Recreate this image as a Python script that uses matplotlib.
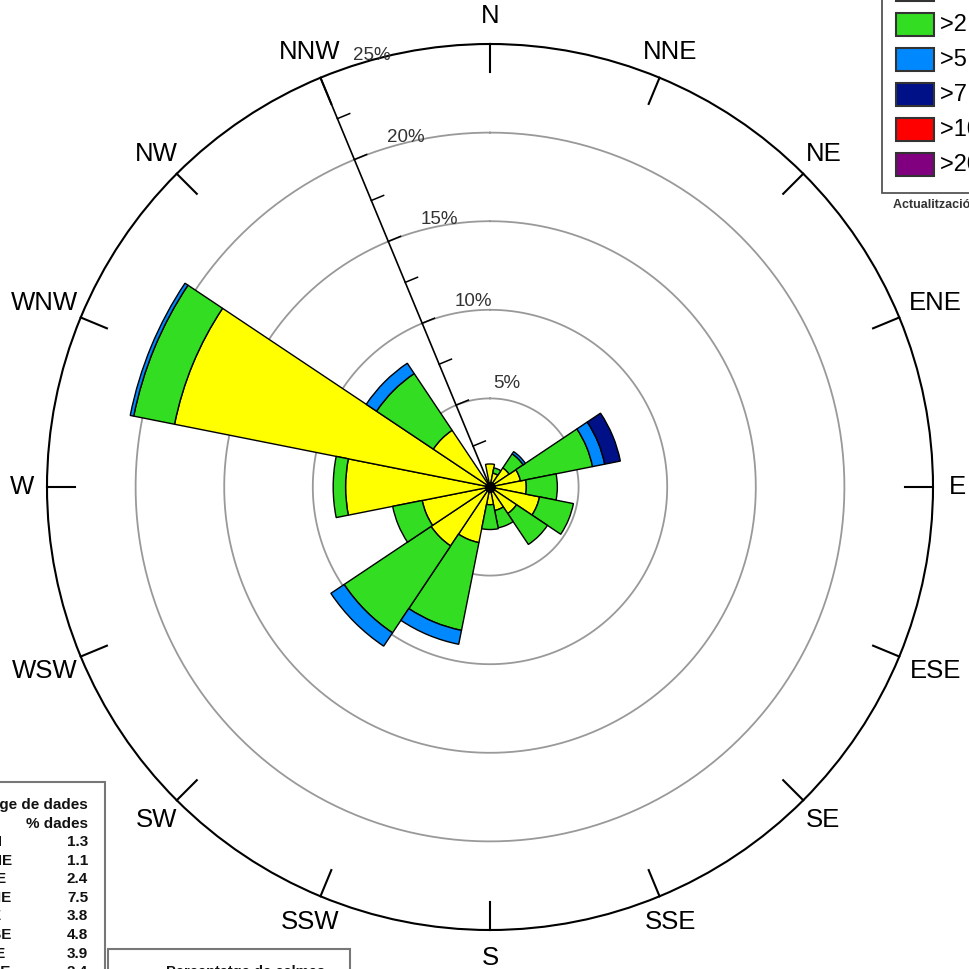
import numpy as np
import matplotlib
matplotlib.use("Agg")
import matplotlib.pyplot as plt
from matplotlib.patches import Rectangle

plt.rcParams['font.family'] = ['Liberation Sans', 'DejaVu Sans']

# wind rose data (% of records), 16 directions from N clockwise
directions = ["N", "NNE", "NE", "ENE", "E", "ESE", "SE", "SSE",
              "S", "SSW", "SW", "WSW", "W", "WNW", "NW", "NNW"]
bin_labels = ["0.5-2 m/s", ">2 m/s", ">5 m/s", ">7 m/s", ">10 m/s", ">20 m/s"]
bin_colors = ["#ffff00", "#33dd22", "#0088ff", "#001188", "#ff0000", "#800080"]

b1 = [1.3, 0.8, 1.3, 1.75, 2.05, 2.85, 1.8, 1.35, 1.0, 3.2, 4.0, 3.9, 8.15, 18.15, 3.85, 0.2]
b2 = [0.0, 0.3, 0.95, 4.15, 1.75, 1.95, 2.1, 1.0, 1.4, 5.05, 5.9, 1.7, 0.7, 2.35, 3.85, 0.0]
b3 = [0.0, 0.0, 0.15, 0.7, 0.0, 0.0, 0.0, 0.0, 0.0, 0.8, 0.9, 0.0, 0.0, 0.2, 0.7, 0.0]
b4 = [0.0, 0.0, 0.0, 0.9, 0.0, 0.0, 0.0, 0.0, 0.0, 0.0, 0.0, 0.0, 0.0, 0.0, 0.0, 0.0]
b5 = [0.0] * 16
b6 = [0.0] * 16

ring_values = [5, 10, 15, 20, 25]
table_dirs = ["N", "NNE", "NE", "ENE", "E", "ESE", "SE", "SSE"]
table_pct = ["1.3", "1.1", "2.4", "7.5", "3.8", "4.8", "3.9", "2.4"]

S = 969
def fx(x):
    return x / S
def fy(y):
    return 1 - y / S

fig = plt.figure(figsize=(9.69, 9.69), dpi=100)
ax = fig.add_axes([fx(47), fy(930), 886 / S, 886 / S], projection='polar')
ax.set_theta_zero_location('N')
ax.set_theta_direction(-1)
ax.set_ylim(0, 25)
ax.set_xticks([])
ax.set_yticks([])
ax.grid(False)
ax.spines['polar'].set_color('black')
ax.spines['polar'].set_linewidth(1.5)

theta = np.deg2rad(np.arange(16) * 22.5)
width = 2 * np.pi / 16

# rings
tt = np.linspace(0, 2 * np.pi, 400)
for r in ring_values[:-1]:
    ax.plot(tt, [r] * len(tt), color='#999999', lw=1.3, zorder=1)

# stacked sectors
bottom = np.zeros(16)
for vals, col in zip([b1, b2, b3, b4, b5, b6], bin_colors):
    vals = np.array(vals)
    m = vals > 0
    ax.bar(theta[m], vals[m], width=width, bottom=bottom[m], color=col,
           edgecolor='black', linewidth=1.0, align='center', zorder=3)
    bottom += vals
ax.plot([0], [0], 'o', color='black', ms=7, zorder=4)

# direction ticks and labels
for th, name in zip(theta, directions):
    ax.plot([th, th], [23.4, 25], color='black', lw=1.5, zorder=2, clip_on=False)
    rl = 26.6
    if name in ("ENE", "ESE", "WSW", "WNW"):
        rl = 27.2
    elif name in ("E", "W"):
        rl = 26.4
    ax.text(th, rl, name, ha='center', va='center', fontsize=18.5, clip_on=False)

# radial axis along NNW
ta = np.deg2rad(337.5)
ax.plot([ta, ta], [0, 25], color='black', lw=1.2, zorder=2)
def perp(r, L):
    x = r * np.sin(ta) + L * np.cos(ta)
    y = r * np.cos(ta) - L * np.sin(ta)
    return np.arctan2(x, y), np.hypot(x, y)
for r in np.arange(2.5, 25, 2.5):
    t2, r2 = perp(r, 0.75)
    ax.plot([ta, t2], [r, r2], color='black', lw=1.1, zorder=2)
for r in ring_values:
    ax.annotate(f"{r}%", xy=(ta, r), xytext=(51, 22), textcoords='offset pixels',
                ha='center', va='center', fontsize=13.5, color='#333333',
                annotation_clip=False)

# speed legend (top right, cropped)
fig.add_artist(Rectangle((fx(882), fy(193)), 200 / S, 260 / S, transform=fig.transFigure,
                         facecolor='white', edgecolor='#555555', lw=1.3))
for i, (lab, col) in enumerate(zip(bin_labels, bin_colors)):
    top = -22 + 35 * i
    fig.add_artist(Rectangle((fx(896), fy(top + 23)), 38 / S, 23 / S, transform=fig.transFigure,
                             facecolor=col, edgecolor='#333333', lw=1.5))
    fig.text(fx(940), fy(top + 12), lab, ha='left', va='center', fontsize=17)
fig.text(fx(893), fy(205), "Actualització: 01/01/2024", ha='left', va='center',
         fontsize=9, fontweight='bold', color='#333333')

# data table (bottom left, cropped)
fig.add_artist(Rectangle((fx(-10), fy(1010)), 115 / S, 228 / S, transform=fig.transFigure,
                         facecolor='white', edgecolor='#777777', lw=1.5))
fig.text(fx(88), fy(805), "Percentatge de dades", ha='right', va='center',
         fontsize=11, fontweight='bold', color='#111111')
fig.text(fx(88), fy(824), "% dades", ha='right', va='center',
         fontsize=11, fontweight='bold', color='#111111')
for i, (d, p) in enumerate(zip(table_dirs, table_pct)):
    y = 842 + 18.6 * i
    fig.text(fx(-4), fy(y), d, ha='center', va='center', fontsize=11,
             fontweight='bold', color='#111111')
    fig.text(fx(88), fy(y), p, ha='right', va='center', fontsize=11,
             fontweight='bold', color='#111111')

fig.add_artist(Rectangle((fx(108), fy(1010)), 242 / S, 61 / S, transform=fig.transFigure,
                         facecolor='white', edgecolor='#777777', lw=1.5))
fig.text(fx(166), fy(965), "Percentatge de calmes", ha='left', va='top',
         fontsize=10.5, fontweight='bold', color='#111111')

fig.savefig("out.png", dpi=100)
